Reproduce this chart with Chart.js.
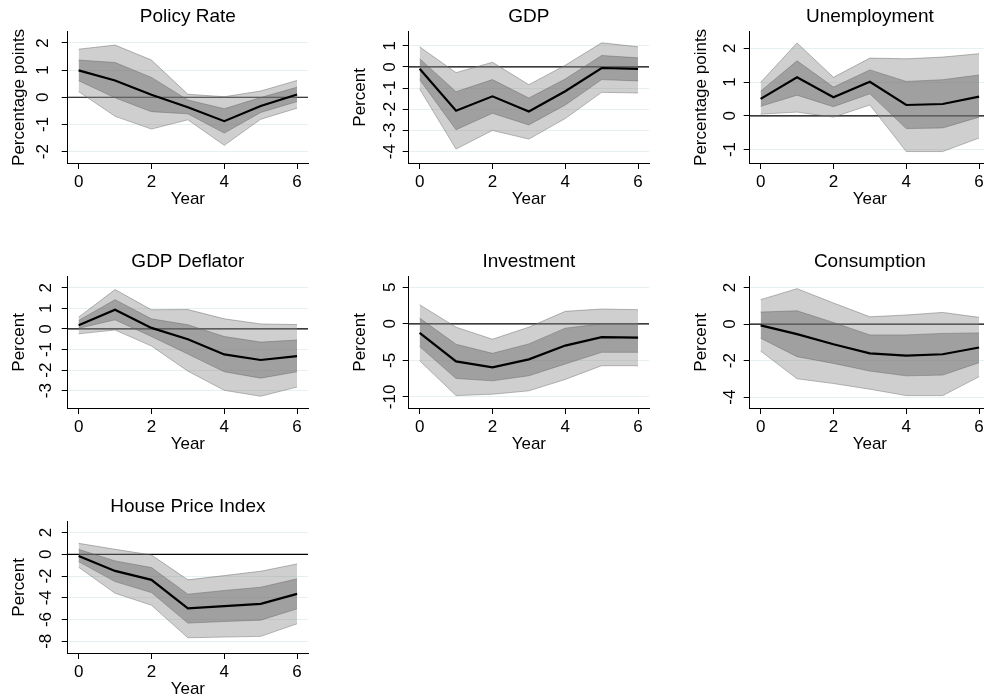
<!DOCTYPE html>
<html>
<head>
<meta charset="utf-8">
<script src="https://cdn.jsdelivr.net/npm/chart.js@4.4.1/dist/chart.umd.min.js"></script>
<style>
  html, body { margin: 0; padding: 0; background: #fff; }
  #grid { position: relative; width: 984px; height: 700px; overflow: hidden; }
  .panel { position: absolute; }
</style>
</head>
<body>
<div id="grid"></div>
<script>
const years = [0, 1, 2, 3, 4, 5, 6];
const xTicks = [0, 2, 4, 6];

// Policy Rate
const policyMid  = [0.99, 0.62, 0.09, -0.37, -0.88, -0.32, 0.10];
const policyHi68 = [1.37, 1.28, 0.73, -0.10, -0.42, -0.01, 0.37];
const policyLo68 = [0.61, -0.02, -0.53, -0.61, -1.32, -0.56, -0.16];
const policyHi90 = [1.77, 1.92, 1.37, 0.11, 0.02, 0.23, 0.62];
const policyLo90 = [0.21, -0.70, -1.17, -0.83, -1.77, -0.81, -0.40];
const policyTicks = [-2, -1, 0, 1, 2];

// GDP
const gdpMid  = [-0.09, -2.07, -1.39, -2.11, -1.15, -0.05, -0.09];
const gdpHi68 = [0.39, -1.17, -0.60, -1.47, -0.57, 0.54, 0.43];
const gdpLo68 = [-0.60, -2.97, -2.19, -2.74, -1.80, -0.60, -0.66];
const gdpHi90 = [0.95, -0.27, 0.22, -0.84, 0.08, 1.14, 0.95];
const gdpLo90 = [-1.04, -3.88, -3.00, -3.41, -2.44, -1.20, -1.23];
const gdpTicks = [-4, -3, -2, -1, 0, 1];

// Unemployment
const unempMid  = [0.50, 1.14, 0.55, 1.01, 0.32, 0.35, 0.57];
const unempHi68 = [0.73, 1.63, 0.85, 1.36, 1.02, 1.07, 1.21];
const unempLo68 = [0.28, 0.61, 0.27, 0.65, -0.38, -0.36, -0.04];
const unempHi90 = [0.99, 2.16, 1.14, 1.71, 1.69, 1.74, 1.84];
const unempLo90 = [0.05, 0.11, -0.04, 0.32, -1.06, -1.06, -0.66];
const unempTicks = [-1, 0, 1, 2];

// GDP Deflator
const deflMid  = [0.18, 0.93, 0.05, -0.50, -1.24, -1.51, -1.32];
const deflHi68 = [0.41, 1.42, 0.49, 0.20, -0.37, -0.64, -0.54];
const deflLo68 = [0.03, 0.44, -0.37, -1.22, -2.08, -2.39, -2.08];
const deflHi90 = [0.57, 1.91, 0.93, 0.94, 0.49, 0.24, 0.21];
const deflLo90 = [-0.24, -0.05, -0.83, -2.05, -2.98, -3.27, -2.82];
const deflTicks = [-3, -2, -1, 0, 1, 2];

// Investment
const invMid  = [-1.24, -5.14, -5.96, -4.86, -2.98, -1.83, -1.88];
const invHi68 = [0.78, -2.80, -4.04, -2.75, -0.60, 0.00, 0.00];
const invLo68 = [-3.12, -7.48, -7.80, -7.11, -5.50, -3.90, -3.90];
const invHi90 = [2.61, -0.46, -2.11, -0.46, 1.70, 2.02, 1.93];
const invLo90 = [-5.05, -9.82, -9.63, -9.17, -7.61, -5.73, -5.73];
const invTicks = [-10, -5, 0, 5];

// Consumption
const consMid  = [-0.07, -0.55, -1.10, -1.60, -1.72, -1.65, -1.28];
const consHi68 = [0.66, 0.73, 0.09, -0.59, -0.59, -0.51, -0.48];
const consLo68 = [-0.77, -1.78, -2.15, -2.57, -2.83, -2.79, -2.11];
const consHi90 = [1.34, 1.94, 1.16, 0.40, 0.50, 0.64, 0.37];
const consLo90 = [-1.47, -2.99, -3.25, -3.56, -3.91, -3.91, -2.88];
const consTicks = [-4, -2, 0, 2];

// House Price Index
const hpiMid  = [-0.15, -1.53, -2.35, -4.98, -4.77, -4.56, -3.64];
const hpiHi68 = [0.46, -0.61, -1.22, -3.67, -3.33, -3.03, -2.26];
const hpiLo68 = [-0.67, -2.51, -3.52, -6.33, -6.18, -6.06, -5.02];
const hpiHi90 = [1.01, 0.46, -0.06, -2.35, -1.96, -1.56, -0.89];
const hpiLo90 = [-1.19, -3.58, -4.68, -7.68, -7.61, -7.55, -6.39];
const hpiTicks = [-8, -6, -4, -2, 0, 2];

document.addEventListener('DOMContentLoaded', () => {
    Chart.defaults.font.family = '"Liberation Sans", Arial, sans-serif';
    Chart.defaults.color = '#000';

    const panels = [
        { title: 'Policy Rate', yTitle: 'Percentage points', mid: policyMid, hi68: policyHi68, lo68: policyLo68, hi90: policyHi90, lo90: policyLo90, ticks: policyTicks, min: -2.42, max: 2.41, lab: 24.5 },
        { title: 'GDP', yTitle: 'Percent', mid: gdpMid, hi68: gdpHi68, lo68: gdpLo68, hi90: gdpHi90, lo90: gdpLo90, ticks: gdpTicks, min: -4.54, max: 1.66, lab: 18.7 },
        { title: 'Unemployment', yTitle: 'Percentage points', mid: unempMid, hi68: unempHi68, lo68: unempLo68, hi90: unempHi90, lo90: unempLo90, ticks: unempTicks, min: -1.40, max: 2.49, lab: 19.7 },
        { title: 'GDP Deflator', yTitle: 'Percent', mid: deflMid, hi68: deflHi68, lo68: deflLo68, hi90: deflHi90, lo90: deflLo90, ticks: deflTicks, min: -3.84, max: 2.53, lab: 21 },
        { title: 'Investment', yTitle: 'Percent', mid: invMid, hi68: invHi68, lo68: invLo68, hi90: invHi90, lo90: invLo90, ticks: invTicks, min: -11.52, max: 6.43, lab: 18.7 },
        { title: 'Consumption', yTitle: 'Percent', mid: consMid, hi68: consHi68, lo68: consLo68, hi90: consHi90, lo90: consLo90, ticks: consTicks, min: -4.59, max: 2.59, lab: 19 },
        { title: 'House Price Index', yTitle: 'Percent', mid: hpiMid, hi68: hpiHi68, lo68: hpiLo68, hi90: hpiHi90, lo90: hpiLo90, ticks: hpiTicks, min: -9.08, max: 2.99, lab: 21 }
    ];

    // Reference line at zero, under the bands
    const zeroLine = {
        id: 'zeroLine',
        beforeDatasetsDraw(chart) {
            const { ctx, chartArea, scales: { y } } = chart;
            const py = y.getPixelForValue(0);
            ctx.save();
            ctx.strokeStyle = '#000';
            ctx.lineWidth = 1.2;
            ctx.beginPath();
            ctx.moveTo(chartArea.left, py);
            ctx.lineTo(chartArea.right, py);
            ctx.stroke();
            ctx.restore();
        }
    };

    // Stata-style vertical y tick labels
    const rotatedYLabels = {
        id: 'rotatedYLabels',
        afterDraw(chart, args, opts) {
            const { ctx, scales: { y } } = chart;
            ctx.save();
            ctx.font = '17px "Liberation Sans", Arial, sans-serif';
            ctx.fillStyle = '#000';
            ctx.textAlign = 'center';
            ctx.textBaseline = 'middle';
            y.ticks.forEach(t => {
                ctx.save();
                ctx.translate(y.right - opts.offset, y.getPixelForValue(t.value));
                ctx.rotate(-Math.PI / 2);
                ctx.fillText(String(t.value), 0, 0);
                ctx.restore();
            });
            ctx.restore();
        }
    };

    const grid = document.getElementById('grid');
    const pts = arr => years.map((x, i) => ({ x, y: arr[i] }));
    const edge = 'rgba(100,100,100,0.45)';

    panels.forEach((p, i) => {
        const canvas = document.createElement('canvas');
        canvas.className = 'panel';
        canvas.width = 341;
        canvas.height = 245;
        canvas.style.left = (i % 3) * 341 + 'px';
        canvas.style.top = Math.floor(i / 3) * 245 + 'px';
        grid.appendChild(canvas);

        const line = (data, extra) => Object.assign({
            data: pts(data), pointRadius: 0, tension: 0, borderWidth: 1, borderColor: edge, fill: false
        }, extra);

        new Chart(canvas.getContext('2d'), {
            type: 'line',
            data: {
                datasets: [
                    line(p.mid, { borderColor: '#000', borderWidth: 2.2 }),
                    line(p.hi68, { fill: '+1', backgroundColor: 'rgba(100,100,100,0.44)' }),
                    line(p.lo68),
                    line(p.hi90, { fill: '+1', backgroundColor: 'rgba(140,140,140,0.42)' }),
                    line(p.lo90)
                ]
            },
            options: {
                responsive: false,
                animation: false,
                layout: { padding: { left: 0, right: 33, top: 0, bottom: 0 } },
                plugins: {
                    legend: { display: false },
                    tooltip: { enabled: false },
                    title: {
                        display: true, text: p.title, fullSize: false, color: '#000',
                        font: { size: 19, weight: 'normal' }, padding: { top: 5, bottom: 4 }
                    },
                    rotatedYLabels: { offset: p.lab }
                },
                scales: {
                    x: {
                        type: 'linear', min: -0.3, max: 6.3,
                        afterBuildTicks: s => { s.ticks = xTicks.map(v => ({ value: v })); },
                        afterFit: s => { s.height = 82; },
                        grid: { drawOnChartArea: false, tickLength: 6, tickColor: '#000' },
                        border: { color: '#000', width: 1 },
                        ticks: { color: '#000', font: { size: 17 }, padding: 3, maxRotation: 0 },
                        title: { display: true, text: 'Year', color: '#000', font: { size: 17 }, padding: { top: 0, bottom: 35 } }
                    },
                    y: {
                        type: 'linear', min: p.min, max: p.max,
                        afterBuildTicks: s => { s.ticks = p.ticks.map(v => ({ value: v })); },
                        afterFit: s => { s.width = 67.7; },
                        grid: { color: '#e6eff1', lineWidth: 1, tickLength: 6, tickColor: '#000' },
                        border: { color: '#000', width: 1 },
                        ticks: { display: false },
                        title: { display: true, text: p.yTitle, color: '#000', font: { size: 17 }, padding: { top: 9, bottom: 0 } }
                    }
                }
            },
            plugins: [zeroLine, rotatedYLabels]
        });
    });
});
</script>
</body>
</html>
